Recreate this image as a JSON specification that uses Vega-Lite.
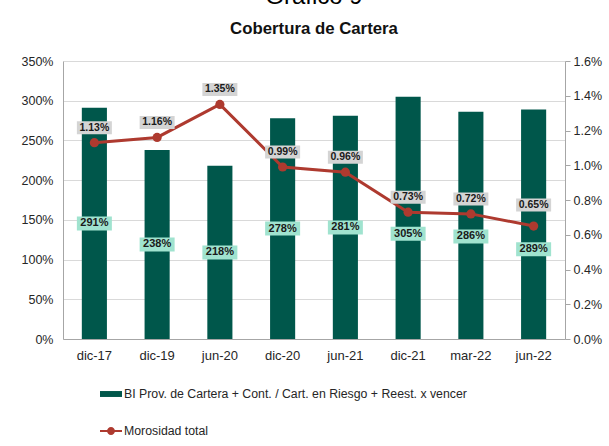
{
  "$schema": "https://vega.github.io/schema/vega-lite/v6.json",
  "width": 502,
  "height": 278,
  "autosize": "none",
  "padding": {"left": 63, "top": 61, "right": 44, "bottom": 107},
  "background": "white",
  "title": {
    "text": "Gráfico 9",
    "subtitle": "Cobertura de Cartera",
    "anchor": "middle",
    "frame": "group",
    "font": "Liberation Sans",
    "fontSize": 24,
    "fontWeight": "normal",
    "color": "#000000",
    "subtitleFont": "Liberation Sans",
    "subtitleFontSize": 16.8,
    "subtitleFontWeight": "bold",
    "subtitleColor": "#111111",
    "subtitlePadding": 12,
    "offset": 17
  },
  "data": {
    "values": [
      {"fecha": "dic-17", "cobertura": 2.91, "morosidad": 0.0113},
      {"fecha": "dic-19", "cobertura": 2.38, "morosidad": 0.0116},
      {"fecha": "jun-20", "cobertura": 2.18, "morosidad": 0.0135},
      {"fecha": "dic-20", "cobertura": 2.78, "morosidad": 0.0099},
      {"fecha": "jun-21", "cobertura": 2.81, "morosidad": 0.0096},
      {"fecha": "dic-21", "cobertura": 3.05, "morosidad": 0.0073},
      {"fecha": "mar-22", "cobertura": 2.86, "morosidad": 0.0072},
      {"fecha": "jun-22", "cobertura": 2.89, "morosidad": 0.0065}
    ]
  },
  "encoding": {
    "x": {
      "field": "fecha",
      "type": "nominal",
      "sort": null,
      "scale": {"paddingInner": 0.6, "paddingOuter": 0.3},
      "axis": {
        "title": null,
        "labelAngle": 0,
        "ticks": false,
        "labelPadding": 10,
        "labelFontSize": 13,
        "labelFont": "Liberation Sans",
        "labelColor": "#262626",
        "domainColor": "#a6a6a6",
        "grid": false
      }
    }
  },
  "layer": [
    {
      "mark": {"type": "bar"},
      "encoding": {
        "y": {
          "field": "cobertura",
          "type": "quantitative",
          "scale": {"domain": [0, 3.5]},
          "axis": {
            "orient": "left",
            "title": null,
            "format": ".0%",
            "values": [0, 0.5, 1, 1.5, 2, 2.5, 3, 3.5],
            "grid": true,
            "gridColor": "#d9d9d9",
            "domainColor": "#a6a6a6",
            "ticks": false,
            "labelPadding": 10,
            "labelFontSize": 12.5,
            "labelFont": "Liberation Sans",
            "labelColor": "#262626"
          }
        },
        "color": {
          "datum": "BI Prov. de Cartera + Cont. / Cart. en Riesgo + Reest. x vencer",
          "type": "nominal",
          "scale": {
            "domain": ["BI Prov. de Cartera + Cont. / Cart. en Riesgo + Reest. x vencer", "Morosidad total"],
            "range": ["#00574b", "#ae3a2f"]
          },
          "legend": {
            "orient": "none",
            "legendX": 37,
            "legendY": 322,
            "direction": "vertical",
            "title": null,
            "labelFont": "Liberation Sans",
            "labelFontSize": 12.3,
            "labelColor": "#262626",
            "labelLimit": 500,
            "symbolSize": 484,
            "rowPadding": 19,
            "labelOffset": 2,
            "encode": {
              "symbols": {
                "update": {
                  "shape": [
                    {"test": "datum.value === 'Morosidad total'", "value": "M-1,-0.08L1,-0.08L1,0.08L-1,0.08Z M-0.36,0A0.36,0.36 0 1,1 0.36,0A0.36,0.36 0 1,1 -0.36,0Z"},
                    {"value": "M-1,-0.27L1,-0.27L1,0.27L-1,0.27Z"}
                  ],
                  "fill": [
                    {"test": "datum.value === 'Morosidad total'", "value": "#ae3a2f"},
                    {"value": "#00574b"}
                  ],
                  "stroke": {"value": "transparent"},
                  "strokeWidth": {"value": 0},
                  "opacity": {"value": 1}
                }
              }
            }
          }
        }
      }
    },
    {
      "mark": {"type": "line", "strokeWidth": 3},
      "encoding": {
        "y": {
          "field": "morosidad",
          "type": "quantitative",
          "scale": {"domain": [0, 0.016]},
          "axis": {
            "orient": "right",
            "title": null,
            "format": ".1%",
            "values": [0, 0.002, 0.004, 0.006, 0.008, 0.01, 0.012, 0.014, 0.016],
            "grid": false,
            "ticks": true,
            "tickSize": 5,
            "tickColor": "#a6a6a6",
            "domainColor": "#a6a6a6",
            "labelPadding": 3,
            "labelFontSize": 12.5,
            "labelFont": "Liberation Sans",
            "labelColor": "#262626"
          }
        },
        "color": {"datum": "Morosidad total", "type": "nominal"}
      }
    },
    {
      "mark": {"type": "point", "filled": true, "size": 85, "opacity": 1},
      "encoding": {
        "y": {"field": "morosidad", "type": "quantitative", "scale": {"domain": [0, 0.016]}, "axis": null},
        "color": {"datum": "Morosidad total", "type": "nominal"}
      }
    },
    {
      "mark": {"type": "point", "filled": true, "size": 1225, "color": "#a0e3cf", "opacity": 1},
      "encoding": {
        "y": {"field": "cobertura", "type": "quantitative", "scale": {"domain": [0, 7]}, "axis": null},
        "shape": {
          "condition": [
            {"test": "datum.fecha === 'dic-21'", "value": "M-1,0.514L1,0.514L1,1.314L-1,1.314Z"},
            {"test": "datum.fecha === 'mar-22'", "value": "M-1,0.229L1,0.229L1,1.029L-1,1.029Z"},
            {"test": "datum.fecha === 'jun-22'", "value": "M-1,1.029L1,1.029L1,1.829L-1,1.829Z"}
          ],
          "value": "M-1,-0.4L1,-0.4L1,0.4L-1,0.4Z"
        }
      }
    },
    {
      "transform": [{"filter": "indexof(['dic-21','mar-22','jun-22'], datum.fecha) < 0"}],
      "mark": {"type": "text", "font": "Liberation Sans", "fontWeight": "bold", "fontSize": 11, "color": "#1a1a1a", "baseline": "middle"},
      "encoding": {
        "y": {"field": "cobertura", "type": "quantitative", "scale": {"domain": [0, 7]}, "axis": null},
        "text": {"field": "cobertura", "type": "quantitative", "format": ".0%"}
      }
    },
    {
      "transform": [{"filter": "datum.fecha === 'dic-21'"}],
      "mark": {"type": "text", "font": "Liberation Sans", "fontWeight": "bold", "fontSize": 11, "color": "#1a1a1a", "baseline": "middle", "dy": 16},
      "encoding": {
        "y": {"field": "cobertura", "type": "quantitative", "scale": {"domain": [0, 7]}, "axis": null},
        "text": {"field": "cobertura", "type": "quantitative", "format": ".0%"}
      }
    },
    {
      "transform": [{"filter": "datum.fecha === 'mar-22'"}],
      "mark": {"type": "text", "font": "Liberation Sans", "fontWeight": "bold", "fontSize": 11, "color": "#1a1a1a", "baseline": "middle", "dy": 11},
      "encoding": {
        "y": {"field": "cobertura", "type": "quantitative", "scale": {"domain": [0, 7]}, "axis": null},
        "text": {"field": "cobertura", "type": "quantitative", "format": ".0%"}
      }
    },
    {
      "transform": [{"filter": "datum.fecha === 'jun-22'"}],
      "mark": {"type": "text", "font": "Liberation Sans", "fontWeight": "bold", "fontSize": 11, "color": "#1a1a1a", "baseline": "middle", "dy": 25},
      "encoding": {
        "y": {"field": "cobertura", "type": "quantitative", "scale": {"domain": [0, 7]}, "axis": null},
        "text": {"field": "cobertura", "type": "quantitative", "format": ".0%"}
      }
    },
    {
      "mark": {"type": "point", "filled": true, "size": 1225, "color": "#d4d4d4", "opacity": 1},
      "encoding": {
        "y": {"field": "morosidad", "type": "quantitative", "scale": {"domain": [0, 0.016]}, "axis": null},
        "shape": {
          "condition": {"test": "datum.fecha === 'jun-22'", "value": "M-1,-1.571L1,-1.571L1,-0.829L-1,-0.829Z"},
          "value": "M-1,-1.229L1,-1.229L1,-0.486L-1,-0.486Z"
        }
      }
    },
    {
      "transform": [{"filter": "datum.fecha !== 'jun-22'"}],
      "mark": {"type": "text", "font": "Liberation Sans", "fontWeight": "bold", "fontSize": 10.5, "color": "#1a1a1a", "baseline": "middle", "dy": -15},
      "encoding": {
        "y": {"field": "morosidad", "type": "quantitative", "scale": {"domain": [0, 0.016]}, "axis": null},
        "text": {"field": "morosidad", "type": "quantitative", "format": ".2%"}
      }
    },
    {
      "transform": [{"filter": "datum.fecha === 'jun-22'"}],
      "mark": {"type": "text", "font": "Liberation Sans", "fontWeight": "bold", "fontSize": 10.5, "color": "#1a1a1a", "baseline": "middle", "dy": -21},
      "encoding": {
        "y": {"field": "morosidad", "type": "quantitative", "scale": {"domain": [0, 0.016]}, "axis": null},
        "text": {"field": "morosidad", "type": "quantitative", "format": ".2%"}
      }
    }
  ],
  "resolve": {"scale": {"y": "independent"}},
  "config": {
    "view": {"stroke": null}
  }
}
